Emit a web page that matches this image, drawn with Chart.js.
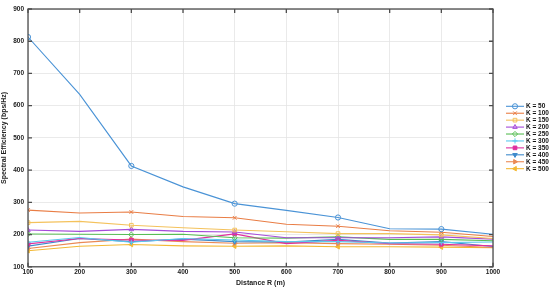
<!DOCTYPE html>
<html><head><meta charset="utf-8">
<script src="https://cdn.jsdelivr.net/npm/chart.js@4.4.1/dist/chart.umd.min.js"></script>
<style>html,body{margin:0;padding:0;background:#fff}#wrap{width:550px;height:288px;position:relative}</style>
</head><body><div id="wrap"><canvas id="c" width="550" height="288"></canvas></div>
<script>
const distances = [100,200,300,400,500,600,700,800,900,1000];
const seriesLabels = ['K = 50','K = 100','K = 150','K = 200','K = 250','K = 300','K = 350','K = 400','K = 450','K = 500'];
const k50  = [813,635,413,348,296,275,253,218,217,201];
const k100 = [276,267,270,256,252,232,226,212,207,194];
const k150 = [237,241,229,221,214,209,203,203,199,188];
const k200 = [214,210,216,210,208,190,190,190,193,186];
const k250 = [202,201,200,201,190,189,193,185,185,181];
const k300 = [176,191,176,188,183,178,178,174,175,177];
const k350 = [171,188,183,182,202,172,182,172,170,165];
const k400 = [164,188,178,186,178,177,185,174,178,163];
const k450 = [157,175,186,178,173,175,172,170,167,160];
const k500 = [150,164,169,165,164,165,162,162,161,159];
const yTicks = [100,200,300,400,500,600,700,800,900];

const values = [k50,k100,k150,k200,k250,k300,k350,k400,k450,k500];
const colors = ['#4a93d6','#e97d45','#f4c25c','#a54cd9','#58bd54','#5bc8ee','#df2f9f','#3f8bcc','#ea8a55','#f3b935'];
const styles = ['circle','crossRot','rect','triangle','rectRot','cross','rect','triangle','triangle','triangle'];
const rots = [0,0,0,0,0,0,0,180,90,-90];
const filled = [false,true,false,false,false,false,true,true,true,true];

const datasets = values.map((v,i)=>({
  label: seriesLabels[i],
  data: v.map((y,j)=>({x:distances[j], y})),
  borderColor: colors[i],
  backgroundColor: filled[i] ? colors[i] : 'rgba(255,255,255,0)',
  borderWidth: 1.1,
  pointStyle: styles[i],
  pointRotation: rots[i],
  pointBorderWidth: 1,
  pointRadius: ctx => ctx.dataIndex % 2 === 0 ? 2.6 : 0,
  pointHoverRadius: 0,
  tension: 0
}));

const boxPlugin = {
  id:'box',
  afterDraw(chart){
    const ctx = chart.ctx, a = chart.chartArea;
    const xs = chart.scales.x, ys = chart.scales.y;
    ctx.save();
    ctx.strokeStyle = '#4d4d4d';
    ctx.lineWidth = 1.3;
    ctx.strokeRect(a.left, a.top, a.right-a.left, a.bottom-a.top);
    ctx.beginPath();
    distances.forEach(d=>{
      const px = xs.getPixelForValue(d);
      ctx.moveTo(px,a.bottom); ctx.lineTo(px,a.bottom-4);
      ctx.moveTo(px,a.top); ctx.lineTo(px,a.top+4);
    });
    yTicks.forEach(t=>{
      const py = ys.getPixelForValue(t);
      ctx.moveTo(a.left,py); ctx.lineTo(a.left+4,py);
      ctx.moveTo(a.right,py); ctx.lineTo(a.right-4,py);
    });
    ctx.stroke();
    // legend
    const lx0 = 506, lx1 = 524, mx = 515, tx = 526;
    let y = 106.3;
    ctx.font = 'bold 6.5px "Liberation Sans", Arial, sans-serif';
    ctx.textBaseline = 'middle';
    ctx.textAlign = 'left';
    chart.data.datasets.forEach((ds,i)=>{
      ctx.strokeStyle = ds.borderColor;
      ctx.lineWidth = 1.1;
      ctx.beginPath(); ctx.moveTo(lx0,y); ctx.lineTo(lx1,y); ctx.stroke();
      ctx.fillStyle = ds.backgroundColor;
      ctx.lineWidth = 1;
      Chart.helpers.drawPoint(ctx, {pointStyle: ds.pointStyle, rotation: ds.pointRotation, radius: 2.6, borderWidth: 1}, mx, y);
      ctx.fillStyle = '#111';
      ctx.fillText(ds.label, tx, y+0.3);
      y += 6.93;
    });
    ctx.restore();
  }
};

const tickFont = {family:'"Liberation Sans", Arial, sans-serif', size:6.5, weight:'bold'};
new Chart(document.getElementById('c'), {
  type:'line',
  data:{datasets},
  options:{
    responsive:false,
    animation:false,
    events:[],
    layout:{padding:{left:0,right:57,top:9,bottom:0}},
    plugins:{legend:{display:false}, tooltip:{enabled:false}},
    scales:{
      x:{type:'linear', min:100, max:1000,
        ticks:{stepSize:100, color:'#222', font:tickFont, padding:2, maxRotation:0, callback:v=>String(v)},
        grid:{color:'#e4e4e4', drawTicks:false, lineWidth:0.8},
        border:{display:false},
        title:{display:true, text:'Distance R (m)', color:'#222', font:{family:'"Liberation Sans", Arial, sans-serif', size:7, weight:'bold'}, padding:{top:0,bottom:1}}
      },
      y:{min:100, max:900,
        afterFit(s){ s.width = 28; },
        ticks:{stepSize:100, color:'#222', font:tickFont, padding:4},
        grid:{color:'#e4e4e4', drawTicks:false, lineWidth:0.8},
        border:{display:false},
        title:{display:true, text:'Spectral Efficiency (bps/Hz)', color:'#222', font:{family:'"Liberation Sans", Arial, sans-serif', size:7, weight:'bold'}, padding:{top:0,bottom:2}}
      }
    }
  },
  plugins:[boxPlugin]
});
</script></body></html>
